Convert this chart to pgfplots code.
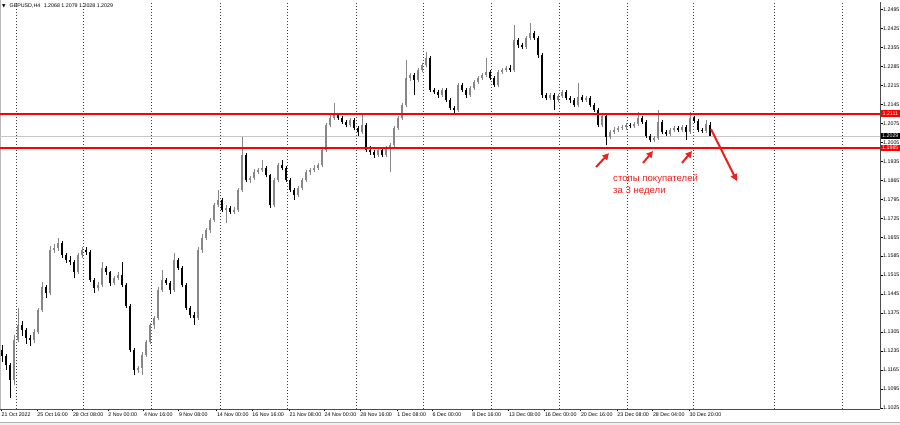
\documentclass[border=0pt]{standalone}
\usepackage{pgfplots}
\pgfplotsset{compat=1.18}
\usepackage{pgfplotstable}
\usepackage{fontspec}
\setmainfont{Liberation Sans}
\newfontfamily\symfont{DejaVu Sans}
\usetikzlibrary{arrows.meta}

\definecolor{mtred}{RGB}{255,0,0}
\definecolor{notered}{RGB}{238,32,32}
\definecolor{bullgray}{RGB}{135,135,135}

% GBPUSD H4, x = chart position, o h l c
\pgfplotstableread{
x o h l c
2 1.1239 1.1257 1.1194 1.1216
6 1.1216 1.1223 1.1165 1.1183
10 1.1183 1.1190 1.1061 1.1128
14 1.1128 1.1294 1.1109 1.1275
18 1.1275 1.1394 1.1268 1.1331
22 1.1331 1.1345 1.1290 1.1312
26 1.1312 1.1320 1.1261 1.1283
30 1.1283 1.1295 1.1253 1.1275
34 1.1275 1.1315 1.1265 1.1305
38 1.1305 1.1395 1.1298 1.1386
42 1.1386 1.1489 1.1378 1.1471
46 1.1471 1.1480 1.1430 1.1449
50 1.1449 1.1622 1.1440 1.1608
54 1.1608 1.1630 1.1595 1.1615
58 1.1615 1.1652 1.1605 1.1633
62 1.1633 1.1640 1.1580 1.1589
66 1.1589 1.1598 1.1560 1.1571
70 1.1571 1.1585 1.1552 1.1563
74 1.1563 1.1570 1.1504 1.1526
78 1.1526 1.1598 1.1518 1.1589
82 1.1589 1.1620 1.1580 1.1608
86 1.1608 1.1618 1.1590 1.1600
90 1.1600 1.1606 1.1488 1.1497
94 1.1497 1.1505 1.1449 1.1467
98 1.1467 1.1488 1.1458 1.1478
102 1.1478 1.1563 1.1470 1.1541
106 1.1541 1.1550 1.1515 1.1526
110 1.1526 1.1532 1.1476 1.1486
114 1.1486 1.1512 1.1478 1.1504
118 1.1504 1.1525 1.1496 1.1515
122 1.1515 1.1563 1.1470 1.1478
126 1.1478 1.1485 1.1392 1.1401
130 1.1401 1.1408 1.1230 1.1239
134 1.1239 1.1245 1.1146 1.1165
138 1.1165 1.1180 1.1154 1.1172
142 1.1172 1.1230 1.1146 1.1220
146 1.1220 1.1277 1.1212 1.1268
150 1.1268 1.1340 1.1260 1.1331
154 1.1331 1.1366 1.1318 1.1357
158 1.1357 1.1470 1.1350 1.1460
162 1.1460 1.1534 1.1452 1.1497
166 1.1497 1.1505 1.1478 1.1486
170 1.1486 1.1492 1.1445 1.1460
174 1.1460 1.1596 1.1452 1.1571
178 1.1571 1.1580 1.1533 1.1541
182 1.1541 1.1548 1.1470 1.1478
186 1.1478 1.1485 1.1385 1.1393
190 1.1393 1.1400 1.1358 1.1368
194 1.1368 1.1380 1.1331 1.1357
198 1.1357 1.1618 1.1350 1.1608
202 1.1608 1.1665 1.1598 1.1652
206 1.1652 1.1690 1.1643 1.1681
210 1.1681 1.1726 1.1672 1.1718
214 1.1718 1.1782 1.1710 1.1774
218 1.1774 1.1829 1.1765 1.1792
222 1.1792 1.1800 1.1747 1.1755
226 1.1755 1.1772 1.1707 1.1762
230 1.1762 1.1770 1.1740 1.1748
234 1.1748 1.1765 1.1740 1.1755
238 1.1755 1.1838 1.1748 1.1829
242 1.1829 1.2025 1.1820 1.1958
246 1.1958 1.1965 1.1858 1.1866
250 1.1866 1.1882 1.1855 1.1873
254 1.1873 1.1905 1.1866 1.1895
258 1.1895 1.1912 1.1888 1.1903
262 1.1903 1.1940 1.1895 1.1910
266 1.1910 1.1918 1.1876 1.1884
270 1.1884 1.1890 1.1762 1.1774
274 1.1774 1.1875 1.1766 1.1866
278 1.1866 1.1930 1.1858 1.1921
282 1.1921 1.1940 1.1902 1.1910
286 1.1910 1.1918 1.1858 1.1866
290 1.1866 1.1872 1.1820 1.1829
294 1.1829 1.1836 1.1792 1.1810
298 1.1810 1.1845 1.1802 1.1836
302 1.1836 1.1874 1.1829 1.1866
306 1.1866 1.1903 1.1858 1.1895
310 1.1895 1.1912 1.1886 1.1903
314 1.1903 1.1920 1.1895 1.1910
318 1.1910 1.1930 1.1902 1.1921
322 1.1921 1.1985 1.1913 1.1977
326 1.1977 1.2078 1.1970 1.2069
330 1.2069 1.2105 1.2060 1.2095
334 1.2095 1.2150 1.2088 1.2106
338 1.2106 1.2115 1.2087 1.2095
342 1.2095 1.2102 1.2072 1.2080
346 1.2080 1.2088 1.2060 1.2069
350 1.2069 1.2096 1.2060 1.2087
354 1.2087 1.2094 1.2050 1.2058
358 1.2058 1.2065 1.2028 1.2043
362 1.2043 1.2106 1.2035 1.2069
366 1.2069 1.2075 1.1968 1.1977
370 1.1977 1.1990 1.1960 1.1969
374 1.1969 1.1978 1.1947 1.1958
378 1.1958 1.1985 1.1950 1.1977
382 1.1977 1.1985 1.1950 1.1958
386 1.1958 1.1993 1.1950 1.1984
390 1.1984 1.2003 1.1895 1.1995
394 1.1995 1.2066 1.1988 1.2058
398 1.2058 1.2104 1.2050 1.2095
402 1.2095 1.2152 1.2088 1.2143
406 1.2143 1.2309 1.2135 1.2242
410 1.2242 1.2262 1.2232 1.2253
414 1.2253 1.2262 1.2179 1.2235
418 1.2235 1.2281 1.2226 1.2272
422 1.2272 1.2299 1.2263 1.2290
426 1.2290 1.2338 1.2282 1.2316
430 1.2316 1.2325 1.2190 1.2198
434 1.2198 1.2206 1.2182 1.2191
438 1.2191 1.2198 1.2170 1.2179
442 1.2179 1.2206 1.2172 1.2198
446 1.2198 1.2205 1.2153 1.2161
450 1.2161 1.2168 1.2124 1.2132
454 1.2132 1.2140 1.2109 1.2124
458 1.2124 1.2225 1.2116 1.2216
462 1.2216 1.2224 1.2190 1.2198
466 1.2198 1.2206 1.2170 1.2179
470 1.2179 1.2214 1.2172 1.2205
474 1.2205 1.2236 1.2198 1.2227
478 1.2227 1.2250 1.2220 1.2242
482 1.2242 1.2262 1.2235 1.2253
486 1.2253 1.2316 1.2246 1.2264
490 1.2264 1.2272 1.2234 1.2242
494 1.2242 1.2250 1.2208 1.2216
498 1.2216 1.2272 1.2208 1.2264
502 1.2264 1.2280 1.2256 1.2272
506 1.2272 1.2288 1.2265 1.2279
510 1.2279 1.2290 1.2264 1.2272
514 1.2272 1.2438 1.2265 1.2382
518 1.2382 1.2390 1.2355 1.2364
522 1.2364 1.2372 1.2348 1.2357
526 1.2357 1.2398 1.2350 1.2390
530 1.2390 1.2445 1.2382 1.2408
534 1.2408 1.2416 1.2382 1.2390
538 1.2390 1.2396 1.2318 1.2327
542 1.2327 1.2335 1.2170 1.2179
546 1.2179 1.2188 1.2160 1.2168
550 1.2168 1.2188 1.2160 1.2179
554 1.2179 1.2186 1.2124 1.2161
558 1.2161 1.2185 1.2153 1.2176
562 1.2176 1.2200 1.2168 1.2191
566 1.2191 1.2198 1.2160 1.2168
570 1.2168 1.2176 1.2152 1.2161
574 1.2161 1.2168 1.2135 1.2143
578 1.2143 1.2224 1.2135 1.2172
582 1.2172 1.2180 1.2153 1.2161
586 1.2161 1.2177 1.2153 1.2168
590 1.2168 1.2175 1.2135 1.2143
594 1.2143 1.2150 1.2116 1.2124
598 1.2124 1.2130 1.2060 1.2069
602 1.2069 1.2111 1.2062 1.2102
606 1.2102 1.2110 1.1995 1.2025
610 1.2025 1.2052 1.2017 1.2043
614 1.2043 1.2060 1.2035 1.2050
618 1.2050 1.2066 1.2042 1.2058
622 1.2058 1.2070 1.2050 1.2061
626 1.2061 1.2078 1.2052 1.2069
630 1.2069 1.2076 1.2057 1.2065
634 1.2065 1.2080 1.2057 1.2072
638 1.2072 1.2117 1.2065 1.2095
642 1.2095 1.2102 1.2072 1.2080
646 1.2080 1.2087 1.2020 1.2028
650 1.2028 1.2036 1.2006 1.2013
654 1.2013 1.2030 1.2006 1.2021
658 1.2021 1.2124 1.2014 1.2080
662 1.2080 1.2087 1.2036 1.2043
666 1.2043 1.2050 1.2028 1.2036
670 1.2036 1.2058 1.2029 1.2050
674 1.2050 1.2066 1.2043 1.2058
678 1.2058 1.2065 1.2043 1.2050
682 1.2050 1.2069 1.2043 1.2061
686 1.2061 1.2068 1.2013 1.2043
690 1.2043 1.2117 1.2036 1.2095
694 1.2095 1.2102 1.2076 1.2084
698 1.2084 1.2090 1.2043 1.2050
702 1.2050 1.2058 1.2039 1.2047
706 1.2047 1.2087 1.2040 1.2072
710 1.2068 1.2079 1.2028 1.2029
}\candles

\begin{document}
\begin{tikzpicture}
\fill[gray!12] (0pt,0pt) rectangle (900pt,2.5pt);
\draw[gray!60, line width=0.6pt] (0pt,2.5pt) -- (900pt,2.5pt);
\draw[gray!55, line width=1pt] (0.5pt,16pt) -- (0.5pt,425pt);
\node[anchor=west, inner sep=0pt, font=\fontsize{5.3}{6}\selectfont] at (2pt,419pt)
  {{\symfont\fontsize{4.5}{5}\selectfont ▼}\hspace{4pt}GBPUSD,H4\hspace{3.5pt}1.2068 1.2079 1.2028 1.2029};
\begin{axis}[
  at={(0pt,16pt)}, anchor=south west,
  scale only axis, width=880pt, height=407pt,
  xmin=0, xmax=880, ymin=1.1021, ymax=1.2523,
  clip=false,
  axis x line*=bottom, axis y line*=right,
  axis line style={gray!60!black, line width=0.8pt},
  tick align=outside, major tick length=2.5pt,
  tick style={black, line width=0.4pt},
  xtick={1,36.7,72.3,107.7,143.3,178.3,216.3,251.7,289,324,359.7,396.7,432,471.7,508.3,544.3,580.3,616.7,652.3,689},
  xticklabels={21 Oct 2022,25 Oct 16:00,28 Oct 08:00,2 Nov 00:00,4 Nov 16:00,9 Nov 08:00,14 Nov 00:00,16 Nov 16:00,21 Nov 08:00,24 Nov 00:00,28 Nov 16:00,1 Dec 08:00,6 Dec 00:00,8 Dec 16:00,13 Dec 08:00,16 Dec 00:00,20 Dec 16:00,23 Dec 08:00,28 Dec 04:00,30 Dec 20:00},
  xticklabel style={font=\fontsize{5.3}{6}\selectfont, anchor=north west, inner sep=0pt, yshift=-1.5pt, xshift=0.5pt},
  ytick={1.1025,1.1095,1.1165,1.1235,1.1305,1.1375,1.1445,1.1515,1.1585,1.1655,1.1725,1.1795,1.1865,1.1935,1.2005,1.2075,1.2145,1.2215,1.2285,1.2355,1.2425,1.2495},
  scaled y ticks=false,
  yticklabel style={font=\fontsize{5.3}{6}\selectfont, anchor=west, inner sep=0pt, xshift=0.5pt,
    /pgf/number format/.cd, fixed, precision=4, zerofill, assume math mode=true},
  extra x ticks={16,83.3,151.7,220,287.7,356,423,491.7,559.3,627.7,693.3,774.3,842},
  extra x tick labels={},
  extra x tick style={grid=major, major tick length=0pt,
    major grid style={black!75, dash pattern=on 1pt off 2pt, line width=0.45pt}},
]
% current price line
\addplot[draw=gray!45, line width=0.5pt, forget plot] coordinates {(0,1.2029) (880,1.2029)};

% wicks and bodies, up candles grey, down candles black
\addplot[bullgray, line width=0.55pt, quiver={u=0, v=\thisrow{h}-\thisrow{l}},
  restrict expr to domain={\thisrow{c}-\thisrow{o}}{0:1}] table[x=x, y=l] {\candles};
\addplot[bullgray, line width=2.6pt, quiver={u=0, v=\thisrow{c}-\thisrow{o}},
  restrict expr to domain={\thisrow{c}-\thisrow{o}}{0:1}] table[x=x, y=o] {\candles};
\addplot[black, line width=0.55pt, quiver={u=0, v=\thisrow{h}-\thisrow{l}},
  restrict expr to domain={\thisrow{c}-\thisrow{o}}{-1:0}] table[x=x, y=l] {\candles};
\addplot[black, line width=2.6pt, quiver={u=0, v=\thisrow{c}-\thisrow{o}},
  restrict expr to domain={\thisrow{c}-\thisrow{o}}{-1:0}] table[x=x, y=o] {\candles};

% levels (thick enough to keep their colour once rasterised)
\addplot[color=mtred, line width=1.8pt, mark=none] coordinates {(0,1.2111) (880,1.2111)};
\addplot[color=mtred, line width=1.8pt, mark=none] coordinates {(0,1.1985) (880,1.1985)};

% price tags on the scale
\node[fill=mtred, text=white, inner sep=0.5pt, minimum width=19pt, minimum height=6.5pt, anchor=west,
  font=\fontsize{5.3}{6}\selectfont] at (axis cs:880.6,1.2111) {1.2111};
\node[fill=black, text=white, inner sep=0.5pt, minimum width=19pt, minimum height=6.5pt, anchor=west,
  font=\fontsize{5.3}{6}\selectfont] at (axis cs:880.6,1.2029) {1.2029};
\node[fill=mtred, text=white, inner sep=0.5pt, minimum width=19pt, minimum height=6.5pt, anchor=west,
  font=\fontsize{5.3}{6}\selectfont] at (axis cs:880.6,1.1985) {1.1985};

% annotation
\draw[draw=notered, fill=notered, line width=2pt, -{Triangle[length=6.5pt,width=6.5pt]}] (axis cs:596,1.1914) -- (axis cs:609,1.1965);
\draw[draw=notered, fill=notered, line width=2pt, -{Triangle[length=6.5pt,width=6.5pt]}] (axis cs:643,1.1929) -- (axis cs:653,1.1973);
\draw[draw=notered, fill=notered, line width=2pt, -{Triangle[length=6.5pt,width=6.5pt]}] (axis cs:682,1.1929) -- (axis cs:692,1.1973);
\draw[draw=notered, fill=notered, line width=2pt, -{Triangle[length=7pt,width=7pt]}] (axis cs:711,1.2054) -- (axis cs:737,1.1862);
\node[text=notered, anchor=west, inner sep=0pt, font=\fontsize{9.6}{11}\selectfont] at (axis cs:613,1.1870) {стопы покупателей};
\node[text=notered, anchor=west, inner sep=0pt, font=\fontsize{9.6}{11}\selectfont] at (axis cs:613,1.1825) {за 3 недели};
\end{axis}
\pgfresetboundingbox
\path[use as bounding box] (0pt,0pt) rectangle (900pt,425pt);
\end{tikzpicture}
\end{document}
